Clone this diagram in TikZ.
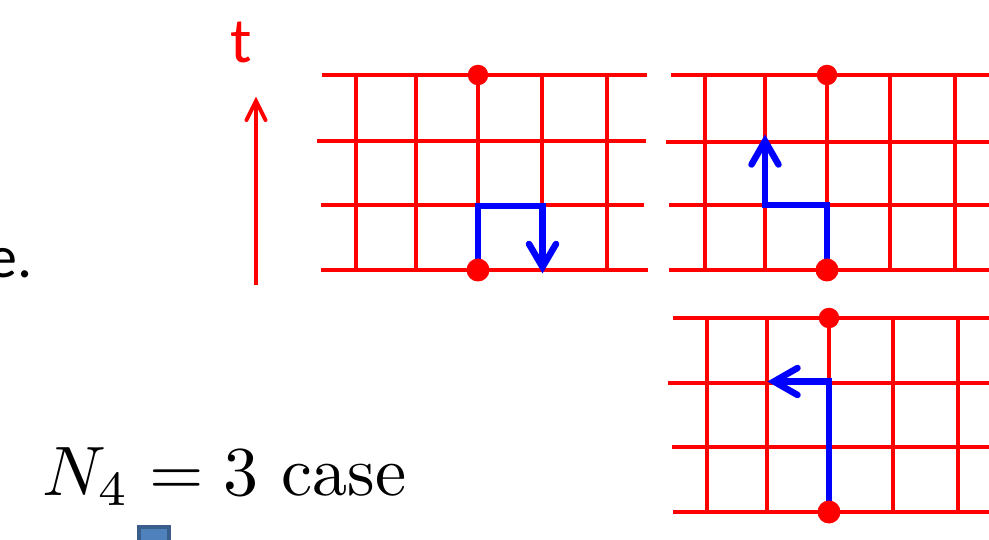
\documentclass[tikz,border=0pt]{standalone}
\usepackage{graphicx}
\usepackage{fontspec}
\newfontfamily\slidefont{Carlito}
\begin{document}
\begin{tikzpicture}[x=1pt,y=-1pt,
  gridline/.style={draw=red,line width=4pt},
  walk/.style={draw=blue,line width=6.5pt,line join=miter},
  walktip/.style={draw=blue,line width=6.5pt,line cap=round,line join=miter},
  site/.style={circle,fill=red,inner sep=0pt,minimum size=#1},
  site/.default=20.5pt]
\useasboundingbox (0,0) rectangle (989,540);
\clip (0,0) rectangle (989,540);

% time axis
\node[text=red,font=\slidefont\fontsize{64}{70}\selectfont,anchor=base west,inner sep=0pt] (tlabel) at (230,63) {t};
\coordinate (tfoot) at (256,285);
\coordinate (thead) at (256,101);
\draw[red,line width=4pt] (tfoot) -- (thead);
\draw[red,line width=4pt,line cap=round,line join=miter] (246.5,120) -- (thead) -- (265.5,120);

% trailing text of the left column
\node[font=\slidefont\fontsize{60}{70}\selectfont,anchor=base east,inner sep=0pt] (tail) at (33,278) {e.};
\node[anchor=base west,inner sep=0pt] (caseeq) at (42,495) {\scalebox{7}{\fontsize{10}{12}\selectfont$N_4=3$ case}};
\node[draw={rgb,255:red,58;green,94;blue,140},fill={rgb,255:red,79;green,129;blue,189},line width=4pt,
  minimum width=30pt,minimum height=30pt,inner sep=0pt,anchor=north west] (marker) at (137,525) {};

% panel A: walk turning right and back down
\foreach \y/\a/\b in {75/322/647,141/317/646,205/321/644,270/321/648}
  \draw[gridline] (\a,\y) -- (\b,\y);
\foreach \x in {356,416,478,542,607}
  \draw[gridline] (\x,75) -- (\x,270);
\draw[walk] (478,270) -- (478,206) -- (542.5,206) -- (542.5,267);
\draw[walktip] (529,244) -- (542.5,267) -- (556,244);
\node[site] (a1) at (478,75) {};
\node[site=23pt] (a0) at (478,270) {};

% panel B: walk turning left and up
\foreach \y/\a/\b in {75/671/995,142/666/995,205/669/995,270/669/995}
  \draw[gridline] (\a,\y) -- (\b,\y);
\foreach \x in {705,765,827,890,955}
  \draw[gridline] (\x,75) -- (\x,270);
\draw[walk] (827,270) -- (827,205) -- (765,205) -- (765,141);
\draw[walktip] (751.5,164.5) -- (765,141) -- (778.5,164.5);
\node[site] (b1) at (827,75) {};
\node[site=23pt] (b0) at (827,270) {};

% panel C: walk going up then left
\foreach \y/\a/\b in {318/673/995,383/668/995,447/672/995,512/673/995}
  \draw[gridline] (\a,\y) -- (\b,\y);
\foreach \x in {707,767,829,893,958}
  \draw[gridline] (\x,318) -- (\x,512);
\draw[walk] (829,512) -- (829,381.5) -- (774,381.5);
\draw[walktip] (797.5,368) -- (774,381.5) -- (797.5,395);
\node[site] (c1) at (829,318) {};
\node[site=23pt] (c0) at (829,512) {};
\end{tikzpicture}
\end{document}
